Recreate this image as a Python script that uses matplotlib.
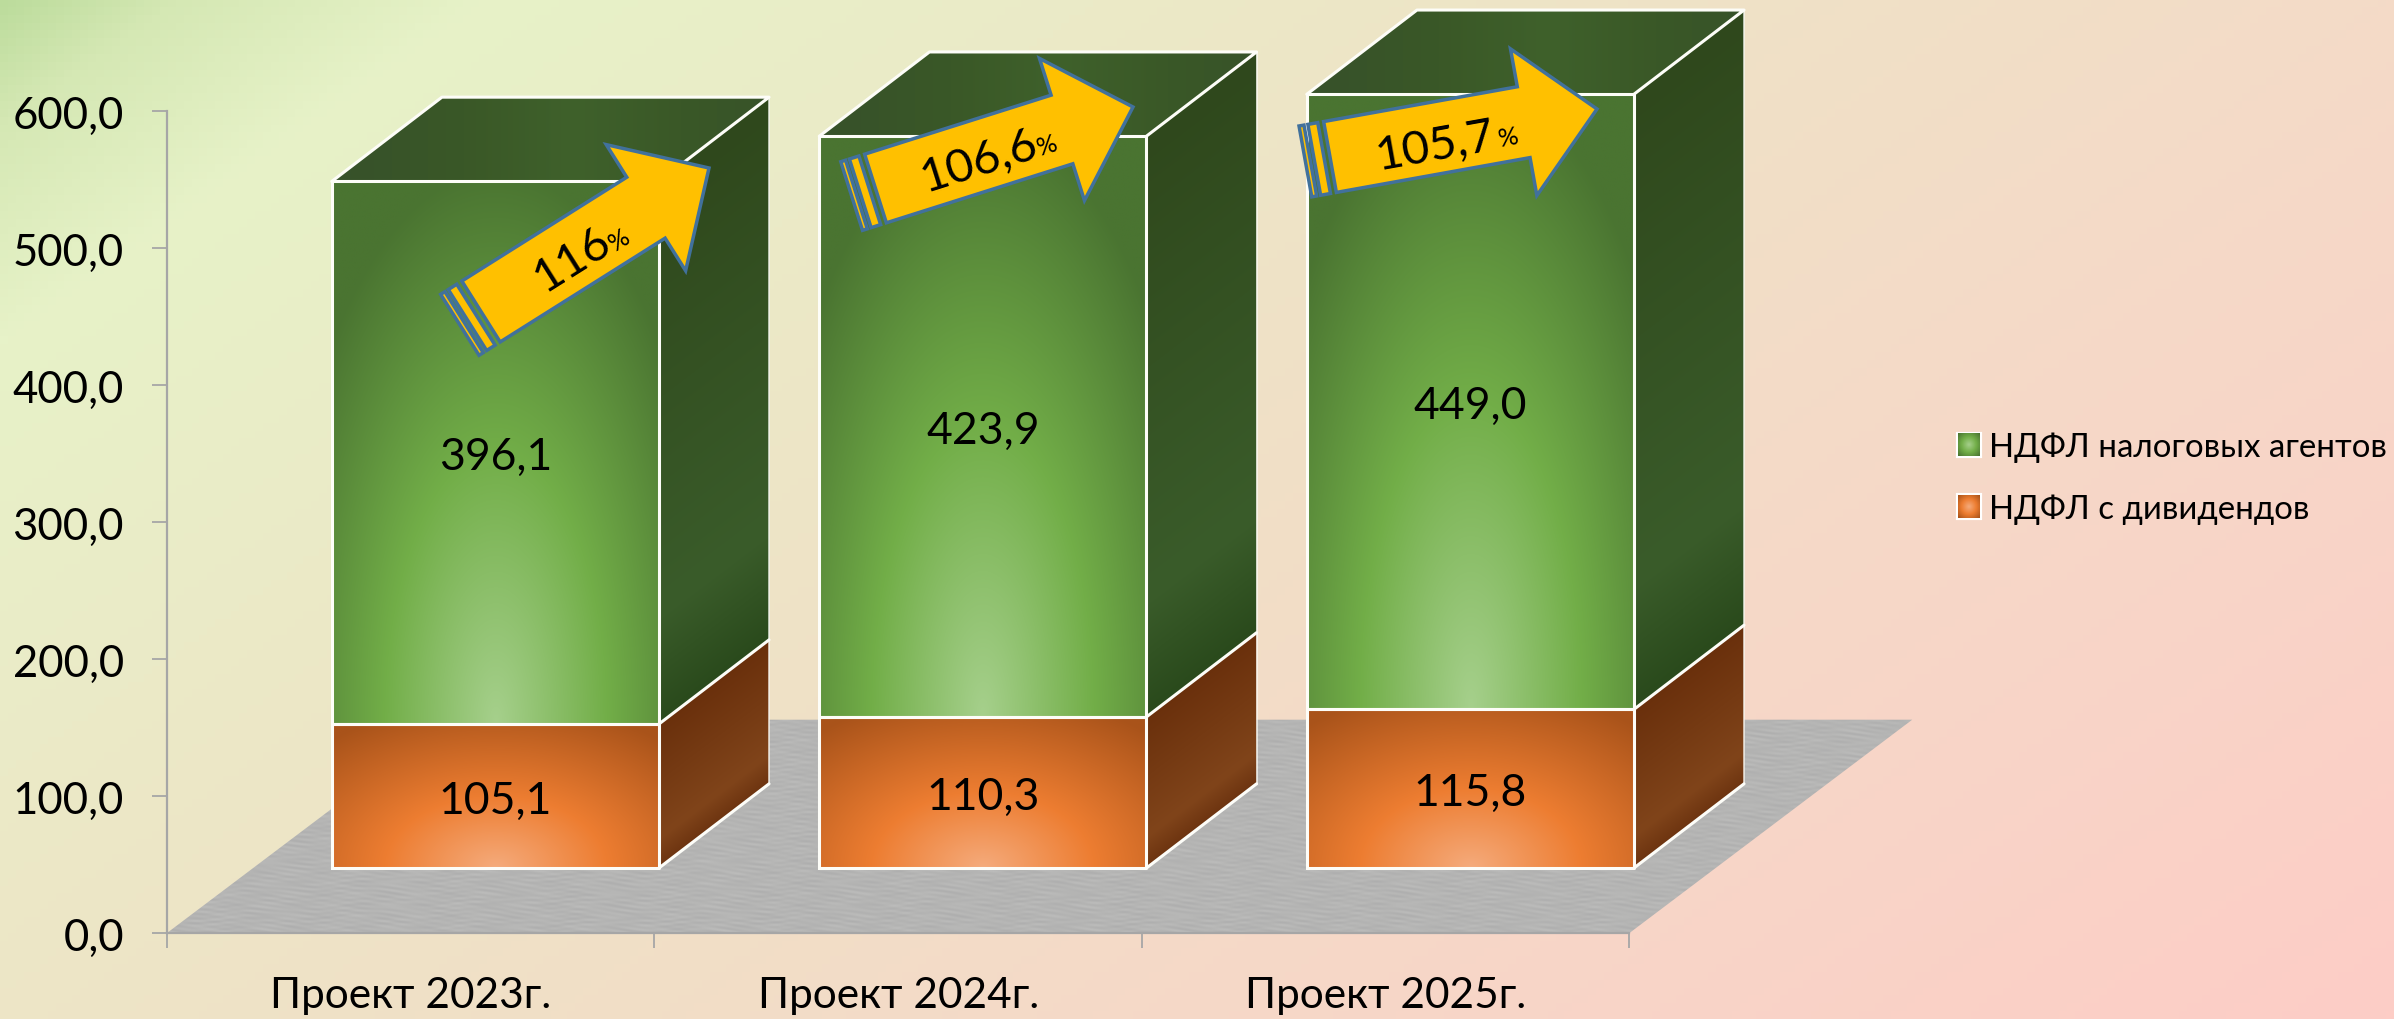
import numpy as np
import matplotlib
matplotlib.use('Agg')
import matplotlib.pyplot as plt
from matplotlib.patches import Polygon, Patch

plt.rcParams['font.family'] = ['Lato', 'Open Sans', 'DejaVu Sans']

W, H = 2394, 1020

# data
categories = ['Проект 2023г.', 'Проект 2024г.', 'Проект 2025г.']
dividends = [105.1, 110.3, 115.8]
agents = [396.1, 423.9, 449.0]
y_ticks = [0, 100, 200, 300, 400, 500, 600]
series_names = ['НДФЛ налоговых агентов', 'НДФЛ с дивидендов']

# arrows, in pixels of the picture
arrow_text = ['116', '106,6', '105,7']
arrow_tail = [(481, 312.5), (875.5, 189.5), (1330, 158)]
arrow_tip = [(709, 169), (1133, 108), (1597, 110)]
arrow_label_pos = [(570, 257), (977, 158), (1434, 142)]
arrow_sign_pos = [(618, 239), (1047, 144), (1508, 136)]

# pseudo 3d geometry
bar_w = 0.671
bar_start = 0.338
dep_x, dep_y = 0.226, 61.5
base_y = 47.4
floor_dx, floor_dy = 0.58, 155.7

GREEN = ['#a6d08c', '#72ae48', '#4a7431']
ORANGE = ['#f5ab7c', '#ed7d31', '#a9531a']
GREEN_SIDE = ['#2a4a1c', '#3a5c2a', '#2f481c']
ORANGE_SIDE = ['#6d3410', '#80441a', '#6a300c']


def rgb(c):
    return np.array(matplotlib.colors.to_rgb(c))


def ramp(t, cols, stops=(0, 0.5, 1)):
    c = np.array([rgb(k) for k in cols])
    return np.dstack([np.interp(t, stops, c[:, i]) for i in range(3)])


def radial(cols, soft, n=160):
    # light at the bottom middle, dark to the corners
    x, y = np.meshgrid(np.linspace(-1, 1, n), np.linspace(0, 1, n))
    d = np.sqrt((x / 0.68) ** 2 + (y / 0.5) ** 2) * 0.5
    d = np.where(d > 0.5, 0.5 + (d - 0.5) * soft, d)
    return ramp(np.clip(d, 0, 1), cols)


def side_fill(cols, h, n=120):
    # follows the slant of the side face
    x, y = np.meshgrid(np.linspace(0, 1, n), np.linspace(0, 1, n))
    k = dep_y / (h + dep_y)
    v = np.clip((y - k * x) / (1 - k), 0, 1)
    return ramp(v, cols, (0, 0.2, 1))


def top_fill(n=80):
    x, y = np.meshgrid(np.linspace(0, 1, n), np.linspace(0, 1, n))
    return ramp(np.abs(x - 0.55) * 2, ['#3f612b', '#3a5827', '#37522a'])


def floor_fill(n=500):
    # faint mottled look of the grey plate
    x, y = np.meshgrid(np.linspace(0, 1, n * 2), np.linspace(0, 1, n))
    s = np.sin(x * 173 + 5 * np.sin(y * 61)) + np.sin(y * 297 + 4 * np.sin(x * 97)) + np.sin((x + 0.6 * y) * 411)
    return ramp(s, ['#aeaeae', '#b5b5b4', '#bcbcbb'], (-3, 0, 3))


def face(ax, pts, img, z):
    pts = np.array(pts)
    im = ax.imshow(img, extent=[pts[:, 0].min(), pts[:, 0].max(), pts[:, 1].min(), pts[:, 1].max()],
                   origin='lower', aspect='auto', zorder=z, interpolation='bilinear')
    poly = Polygon(pts, closed=True, transform=ax.transData, fc='none', ec='none', clip_on=False)
    ax.add_patch(poly)
    im.set_clip_box(ax.figure.bbox)
    im.set_clip_path(poly)


def box(ax, x0, y0, h, cols, side, soft, with_top=False):
    x1 = x0 + bar_w
    y1 = y0 + h
    face(ax, [(x0, y0), (x1, y0), (x1, y1), (x0, y1)], radial(cols, soft), 3)
    face(ax, [(x1, y0), (x1 + dep_x, y0 + dep_y), (x1 + dep_x, y1 + dep_y), (x1, y1)], side_fill(side, h), 3)
    edge = dict(color='#fdfdf8', lw=2.2, zorder=4, solid_capstyle='round', clip_on=False)
    ax.plot([x0, x1, x1, x0, x0], [y0, y0, y1, y1, y0], **edge)
    ax.plot([x1, x1 + dep_x], [y0, y0 + dep_y], **edge)
    ax.plot([x1 + dep_x, x1 + dep_x], [y0 + dep_y, y1 + dep_y], color='#fdfdf8', lw=1.2, alpha=0.8,
            zorder=4, clip_on=False)
    if with_top:
        face(ax, [(x0, y1), (x1, y1), (x1 + dep_x, y1 + dep_y), (x0 + dep_x, y1 + dep_y)], top_fill(), 3)
        ax.plot([x1, x1 + dep_x, x0 + dep_x, x0], [y1, y1 + dep_y, y1 + dep_y, y1], **edge)


fig = plt.figure(figsize=(W / 100, H / 100), dpi=100)

# page background
bg = fig.add_axes([0, 0, 1, 1], zorder=0)
xx, yy = np.meshgrid(np.linspace(0, 1, 300), np.linspace(0, 1, 130))
t = xx * 0.70 + yy * 0.42
bg_stops = [0, 0.05, 0.14, 0.5, 0.78, 1.12]
bg_cols = ['#bcdc9c', '#d5e8b4', '#e7f2c8', '#efe2c6', '#f6d8c8', '#fdcdc6']
bg.imshow(ramp(t, bg_cols, bg_stops), extent=[0, 1, 0, 1], origin='upper', aspect='auto')
bg.axis('off')

# chart
ax = fig.add_axes([167 / W, 1 - 934 / H, (1629.5 - 167) / W, (934 - 112) / H], zorder=1)
ax.patch.set_visible(False)

x = np.arange(len(categories))
face(ax, [(0, 0), (3, 0), (3 + floor_dx, floor_dy), (floor_dx, floor_dy)], floor_fill(), 1)

for i in x:
    x0 = i + bar_start
    box(ax, x0, base_y, dividends[i], ORANGE, ORANGE_SIDE, 0.75)
    box(ax, x0, base_y + dividends[i], agents[i], GREEN, GREEN_SIDE, 0.95, with_top=True)
    ax.text(x0 + bar_w / 2, base_y + dividends[i] / 2, f'{dividends[i]:.1f}'.replace('.', ','),
            ha='center', va='center_baseline', fontsize=32, color='black', zorder=6)
    ax.text(x0 + bar_w / 2, base_y + dividends[i] + agents[i] / 2, f'{agents[i]:.1f}'.replace('.', ','),
            ha='center', va='center_baseline', fontsize=32, color='black', zorder=6)

ax.set_xlim(0, 3)
ax.set_ylim(0, 600)
ax.set_yticks(y_ticks)
ax.set_yticklabels([f'{v:.1f}'.replace('.', ',') for v in y_ticks], fontsize=31.5)
ax.set_xticks([0, 1, 2, 3])
ax.set_xticklabels([])
ax.set_xticks(x + 0.5, categories, minor=True, fontsize=30.5)
ax.tick_params(axis='x', which='major', length=11, width=1.3, color='#a6a6a6')
ax.tick_params(axis='x', which='minor', length=0, pad=31)
ax.tick_params(axis='y', length=11, width=1.3, color='#a6a6a6', pad=20)
for s in ['top', 'right']:
    ax.spines[s].set_visible(False)
for s in ['left', 'bottom']:
    ax.spines[s].set_color('#a6a6a6')
    ax.spines[s].set_linewidth(1.6)
    ax.spines[s].set_zorder(2)

handles = [Patch(fc=GREEN[1], ec='white', lw=3), Patch(fc=ORANGE[1], ec='white', lw=3)]
leg = ax.legend(handles, series_names, loc='center left', bbox_to_anchor=(1958 / W, 1 - 479 / H),
                bbox_transform=fig.transFigure, frameon=False, fontsize=23.8, handlelength=0.66,
                handleheight=0.66, handletextpad=0.27, labelspacing=0.95, borderpad=0, borderaxespad=0)

# overlay in picture pixels, for the arrows and the legend swatches
ov = fig.add_axes([0, 0, 1, 1], zorder=2)
ov.axis('off')

fig.canvas.draw()
gx, gy = np.meshgrid(np.linspace(-1, 1, 30), np.linspace(-1, 1, 30))
for p, cols in zip(leg.get_patches(), [GREEN, ORANGE]):
    bb = p.get_window_extent()
    img = ramp(np.clip(np.sqrt(gx ** 2 + gy ** 2) / 1.4, 0, 1), cols)
    ov.imshow(img, extent=[bb.x0, bb.x1, H - bb.y0, H - bb.y1], origin='lower', aspect='auto',
              interpolation='bilinear')


def arrow(tail, tip, label, label_pos, sign_pos):
    tail = np.array(tail, float)
    tip = np.array(tip, float)
    L = np.linalg.norm(tip - tail)
    u = (tip - tail) / L
    n = np.array([-u[1], u[0]])
    hl, hw, sw = 74.5, 74.5, 36

    def p(s, w):
        return tail + u * s + n * w

    blue = '#41719c'
    shape = [p(0, -sw), p(L - hl, -sw), p(L - hl, -hw), p(L, 0), p(L - hl, hw), p(L - hl, sw), p(0, sw)]
    ov.add_patch(Polygon(shape, closed=True, fc='#ffc000', ec=blue, lw=2.5, joinstyle='miter'))
    ov.add_patch(Polygon([p(-16, -sw), p(-6, -sw), p(-6, sw), p(-16, sw)], closed=True,
                         fc='#ffc000', ec=blue, lw=2.5))
    ov.add_patch(Polygon([p(-25, -sw), p(-20, -sw), p(-20, sw), p(-25, sw)], closed=True,
                         fc='#ffc000', ec=blue, lw=2.5))
    ang = np.degrees(np.arctan2(-u[1], u[0]))
    ov.text(label_pos[0], label_pos[1], label, rotation=ang, rotation_mode='anchor', ha='center',
            va='center_baseline', fontsize=34, color='black')
    ov.text(sign_pos[0], sign_pos[1], '%', rotation=ang, rotation_mode='anchor', ha='center',
            va='center_baseline', fontsize=18, color='black')


for i in range(3):
    arrow(arrow_tail[i], arrow_tip[i], arrow_text[i], arrow_label_pos[i], arrow_sign_pos[i])

ov.set_xlim(0, W)
ov.set_ylim(H, 0)

fig.savefig('out.png', dpi=100)
